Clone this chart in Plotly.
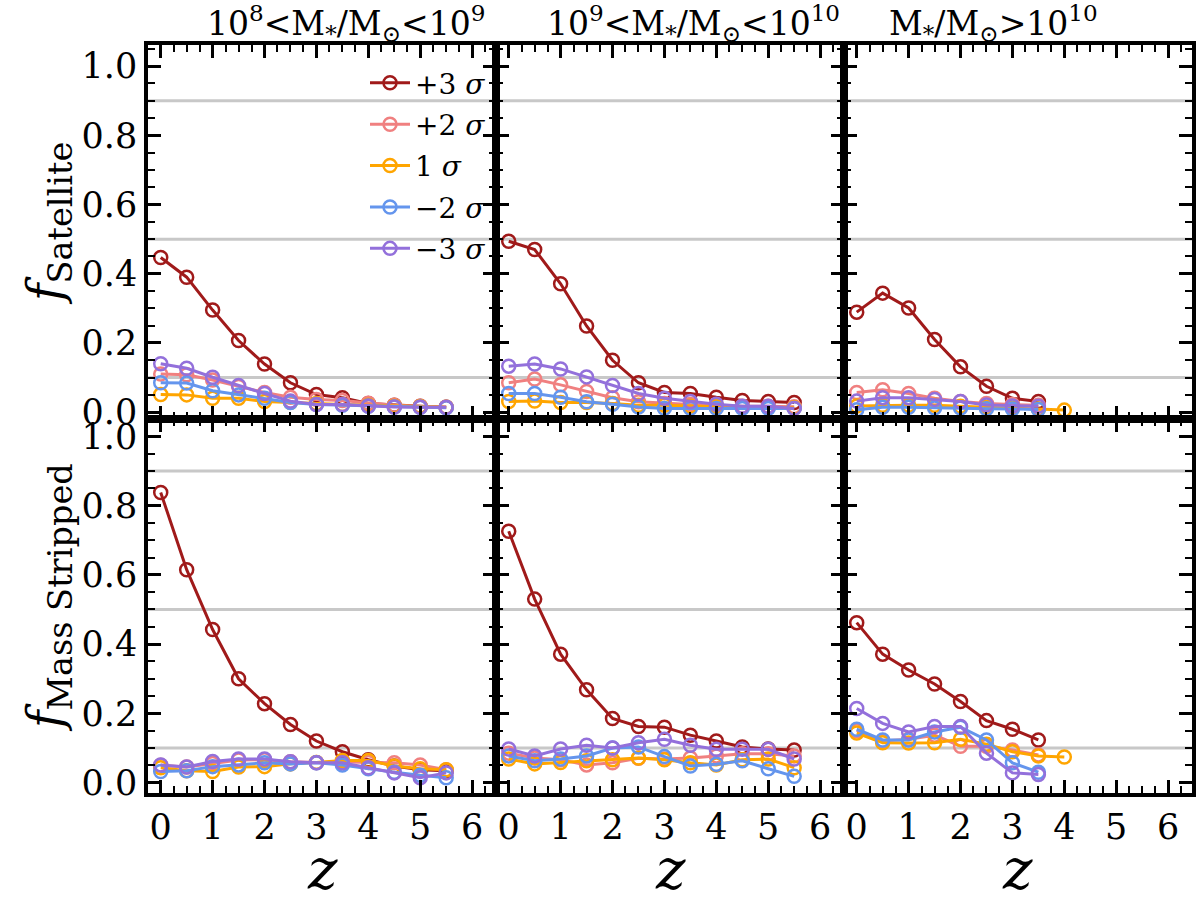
import plotly.graph_objects as go
from plotly.subplots import make_subplots

# ---------------- data ----------------
z_full = [0.0, 0.5, 1.0, 1.5, 2.0, 2.5, 3.0, 3.5, 4.0, 4.5, 5.0, 5.5]
z_hi = [0.0, 0.5, 1.0, 1.5, 2.0, 2.5, 3.0, 3.5]
z_hi_ext = [0.0, 0.5, 1.0, 1.5, 2.0, 2.5, 3.0, 3.5, 4.0]

series_labels = ["+3 <i>σ</i>", "+2 <i>σ</i>", "1 <i>σ</i>", "−2 <i>σ</i>", "−3 <i>σ</i>"]
series_colors = ["#a01a1a", "#f08080", "#ffa500", "#6495ed", "#9370db"]

panel_titles = ["10<sup>8</sup>&lt;M<sub>*</sub>/M<sub>⊙</sub>&lt;10<sup>9</sup>",
                "10<sup>9</sup>&lt;M<sub>*</sub>/M<sub>⊙</sub>&lt;10<sup>10</sup>",
                "M<sub>*</sub>/M<sub>⊙</sub>&gt;10<sup>10</sup>"]

# f_Satellite, 1e8-1e9
sat_lo_p3 = [0.447, 0.39, 0.295, 0.207, 0.139, 0.085, 0.051, 0.042, 0.025, 0.020, 0.017, 0.014]
sat_lo_p2 = [0.110, 0.108, 0.093, 0.074, 0.057, 0.043, 0.037, 0.034, 0.026, 0.020, 0.017, 0.014]
sat_lo_1s = [0.051, 0.050, 0.040, 0.040, 0.031, 0.029, 0.025, 0.022, 0.020, 0.017, 0.016, 0.014]
sat_lo_m2 = [0.085, 0.084, 0.062, 0.050, 0.040, 0.028, 0.022, 0.020, 0.017, 0.015, 0.014, 0.013]
sat_lo_m3 = [0.140, 0.127, 0.101, 0.077, 0.054, 0.032, 0.022, 0.022, 0.018, 0.015, 0.014, 0.014]

# f_Satellite, 1e9-1e10
sat_mid_p3 = [0.494, 0.470, 0.371, 0.249, 0.150, 0.085, 0.057, 0.054, 0.043, 0.034, 0.031, 0.028]
sat_mid_p2 = [0.085, 0.096, 0.079, 0.060, 0.042, 0.030, 0.025, 0.022, 0.020, 0.017, 0.017, 0.016]
sat_mid_1s = [0.031, 0.032, 0.028, 0.028, 0.025, 0.020, 0.020, 0.017, 0.016, 0.015, 0.014, 0.013]
sat_mid_m2 = [0.054, 0.054, 0.043, 0.030, 0.023, 0.015, 0.011, 0.011, 0.011, 0.011, 0.011, 0.011]
sat_mid_m3 = [0.133, 0.139, 0.125, 0.102, 0.077, 0.054, 0.040, 0.031, 0.023, 0.017, 0.017, 0.011]

# f_Satellite, >1e10
sat_hi_p3 = [0.289, 0.344, 0.301, 0.210, 0.131, 0.075, 0.040, 0.031]
sat_hi_p2 = [0.057, 0.065, 0.054, 0.040, 0.031, 0.025, 0.022, 0.020]
sat_hi_1s = [0.018, 0.020, 0.020, 0.020, 0.017, 0.014, 0.012, 0.010, 0.006]
sat_hi_m2 = [0.007, 0.014, 0.014, 0.012, 0.012, 0.010, 0.009, 0.008]
sat_hi_m3 = [0.032, 0.042, 0.042, 0.037, 0.031, 0.021, 0.018, 0.017]

# f_Mass Stripped, 1e8-1e9
ms_lo_p3 = [0.838, 0.615, 0.442, 0.300, 0.228, 0.168, 0.120, 0.089, 0.066, 0.048, 0.037, 0.034]
ms_lo_p2 = [0.050, 0.045, 0.055, 0.065, 0.066, 0.060, 0.058, 0.060, 0.058, 0.057, 0.051, 0.037]
ms_lo_1s = [0.043, 0.034, 0.032, 0.045, 0.046, 0.054, 0.058, 0.064, 0.064, 0.048, 0.040, 0.037]
ms_lo_m2 = [0.032, 0.034, 0.046, 0.051, 0.057, 0.054, 0.057, 0.051, 0.040, 0.030, 0.021, 0.014]
ms_lo_m3 = [0.051, 0.045, 0.061, 0.068, 0.068, 0.060, 0.057, 0.057, 0.043, 0.028, 0.014, 0.028]

# f_Mass Stripped, 1e9-1e10
ms_mid_p3 = [0.726, 0.530, 0.371, 0.268, 0.185, 0.162, 0.160, 0.137, 0.120, 0.103, 0.097, 0.094]
ms_mid_p2 = [0.085, 0.071, 0.066, 0.051, 0.057, 0.070, 0.068, 0.071, 0.077, 0.083, 0.083, 0.077]
ms_mid_1s = [0.068, 0.054, 0.058, 0.063, 0.066, 0.071, 0.066, 0.057, 0.051, 0.066, 0.068, 0.043]
ms_mid_m2 = [0.077, 0.063, 0.068, 0.077, 0.100, 0.103, 0.075, 0.048, 0.053, 0.063, 0.040, 0.018]
ms_mid_m3 = [0.097, 0.077, 0.097, 0.108, 0.100, 0.115, 0.125, 0.108, 0.096, 0.096, 0.096, 0.068]

# f_Mass Stripped, >1e10
ms_hi_p3 = [0.462, 0.371, 0.325, 0.285, 0.234, 0.179, 0.154, 0.123]
ms_hi_p2 = [0.150, 0.120, 0.125, 0.137, 0.105, 0.105, 0.094, 0.080]
ms_hi_1s = [0.143, 0.115, 0.114, 0.115, 0.125, 0.111, 0.089, 0.077, 0.074]
ms_hi_m2 = [0.154, 0.123, 0.123, 0.146, 0.160, 0.123, 0.057, 0.030]
ms_hi_m3 = [0.214, 0.171, 0.146, 0.162, 0.162, 0.085, 0.028, 0.023]

ref_lines = [0.1, 0.5, 0.9]
x_ticks = [0, 1, 2, 3, 4, 5, 6]
y_ticks = [0.0, 0.2, 0.4, 0.6, 0.8, 1.0]

panels = [
    (1, 1, [z_full] * 5, [sat_lo_p3, sat_lo_p2, sat_lo_1s, sat_lo_m2, sat_lo_m3]),
    (1, 2, [z_full] * 5, [sat_mid_p3, sat_mid_p2, sat_mid_1s, sat_mid_m2, sat_mid_m3]),
    (1, 3, [z_hi, z_hi, z_hi_ext, z_hi, z_hi], [sat_hi_p3, sat_hi_p2, sat_hi_1s, sat_hi_m2, sat_hi_m3]),
    (2, 1, [z_full] * 5, [ms_lo_p3, ms_lo_p2, ms_lo_1s, ms_lo_m2, ms_lo_m3]),
    (2, 2, [z_full] * 5, [ms_mid_p3, ms_mid_p2, ms_mid_1s, ms_mid_m2, ms_mid_m3]),
    (2, 3, [z_hi, z_hi, z_hi_ext, z_hi, z_hi], [ms_hi_p3, ms_hi_p2, ms_hi_1s, ms_hi_m2, ms_hi_m3]),
]

# ---------------- figure ----------------
W, H = 1200, 924
FONT = "DejaVu Serif"
fig = make_subplots(rows=2, cols=3, horizontal_spacing=0, vertical_spacing=0)

for row, col, zs, vals in panels:
    for i in range(5):
        fig.add_trace(go.Scatter(
            x=zs[i], y=vals[i], mode="lines+markers", name=series_labels[i],
            line=dict(color=series_colors[i], width=3),
            marker=dict(symbol="circle-open", size=13, color=series_colors[i], line=dict(width=2.5)),
            showlegend=(row == 1 and col == 1), legendgroup=f"g{i}",
        ), row=row, col=col)

xdom = [(148, 496), (496, 844), (844, 1192)]
ydom = [(44, 424), (424, 804)]

for r in (1, 2):
    for c in (1, 2, 3):
        idx = (r - 1) * 3 + c
        xa = "xaxis" if idx == 1 else f"xaxis{idx}"
        ya = "yaxis" if idx == 1 else f"yaxis{idx}"
        x0, x1 = xdom[c - 1]
        y0, y1 = ydom[r - 1]
        fig.layout[xa].update(
            domain=[x0 / W, x1 / W], range=[-0.245, 6.46],
            tickmode="array", tickvals=x_ticks, ticktext=[str(t) for t in x_ticks],
            showticklabels=(r == 2), ticks="inside", ticklen=13, tickwidth=3, tickcolor="black",
            minor=dict(ticks="inside", dtick=0.25, tick0=0, ticklen=7, tickwidth=2, tickcolor="black"),
            showline=True, linewidth=3.5, linecolor="black", mirror="ticks",
            showgrid=False, zeroline=False,
            tickfont=dict(family=FONT, size=35, color="black"),
        )
        yr = [-0.02, 1.06] if r == 1 else [-0.03, 1.05]
        fig.layout[ya].update(
            domain=[1 - y1 / H, 1 - y0 / H], range=yr,
            tickmode="array", tickvals=y_ticks, ticktext=[f"{t:.1f}" for t in y_ticks],
            showticklabels=(c == 1), ticks="inside", ticklen=13, tickwidth=3, tickcolor="black",
            minor=dict(ticks="inside", dtick=0.05, tick0=0, ticklen=7, tickwidth=2, tickcolor="black"),
            showline=True, linewidth=3.5, linecolor="black", mirror="ticks",
            showgrid=False, zeroline=False,
            tickfont=dict(family=FONT, size=35, color="black"),
        )
        xref = "x" if idx == 1 else f"x{idx}"
        yref = "y" if idx == 1 else f"y{idx}"
        for yl in ref_lines:
            fig.add_shape(type="line", xref=f"{xref} domain", yref=yref, x0=0, x1=1, y0=yl, y1=yl,
                          line=dict(color="#c8c8c8", width=3), layer="below")

annotations = []
title_centers = [346, 693, 993]
for t, xc in zip(panel_titles, title_centers):
    annotations.append(dict(text=t, x=xc / W, y=1 - 22 / H, xref="paper", yref="paper",
                            xanchor="center", yanchor="middle", showarrow=False,
                            font=dict(family=FONT, size=33, color="black")))
for xc in [322, 670, 1017]:
    annotations.append(dict(text="<i>z</i>", x=xc / W, y=1 - 882 / H, xref="paper", yref="paper",
                            xanchor="center", yanchor="middle", showarrow=False,
                            font=dict(family=FONT, size=56, color="black")))
annotations.append(dict(text="<i>f</i><sub>Satellite</sub>", x=48 / W, y=1 - 225 / H,
                        xref="paper", yref="paper", xanchor="center", yanchor="middle",
                        textangle=-90, showarrow=False, font=dict(family=FONT, size=48, color="black")))
annotations.append(dict(text="<i>f</i><sub>Mass Stripped</sub>", x=48 / W, y=1 - 605 / H,
                        xref="paper", yref="paper", xanchor="center", yanchor="middle",
                        textangle=-90, showarrow=False, font=dict(family=FONT, size=48, color="black")))

fig.update_layout(
    width=W, height=H, margin=dict(l=0, r=0, t=0, b=0),
    paper_bgcolor="white", plot_bgcolor="white",
    annotations=annotations,
    legend=dict(x=365 / W, y=1 - 57 / H, xanchor="left", yanchor="top",
                bgcolor="rgba(0,0,0,0)", borderwidth=0, tracegroupgap=2,
                font=dict(family=FONT, size=28, color="black"), itemwidth=40),
)

fig.write_html("out.html")
